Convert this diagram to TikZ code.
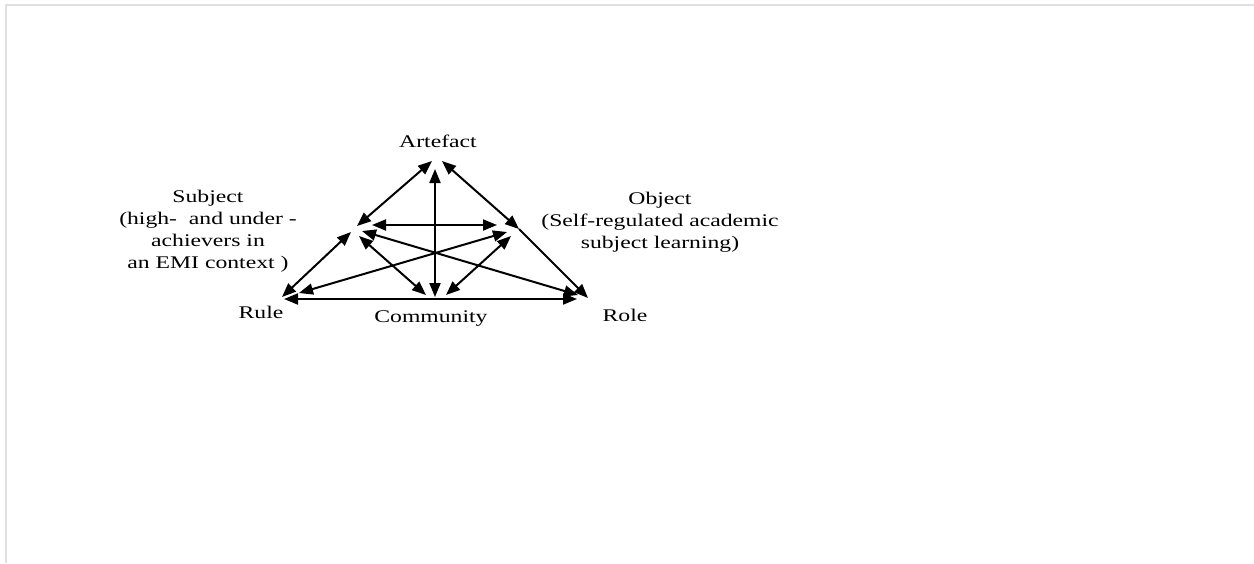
\documentclass[tikz,border=0pt]{standalone}
\usepackage{fontspec}
\setmainfont{Liberation Serif}[FakeStretch=1.33]
\usetikzlibrary{arrows.meta}
\begin{document}
\begin{tikzpicture}[x=0.5pt,y=-0.5pt,
  lbl/.style={font=\fontsize{8.9}{11}\selectfont, inner sep=0pt, align=center},
  link/.style={{Triangle[length=7pt,width=5.5pt]}-{Triangle[length=7pt,width=5.5pt]}, line width=1pt},
  halflink/.style={-{Triangle[length=7pt,width=5.5pt]}, line width=1pt}]
\useasboundingbox (0,0) rectangle (1254,563);
\draw[black!12, line width=0.8pt] (1254,5) -- (6,5) -- (6,563);

% labels
\node[lbl, anchor=base] (artefact) at (438,147) {Artefact};
\node[lbl, anchor=north] (subject) at (208,190) {Subject\\(high-\ \ and under -\\achievers in\\an EMI context )};
\node[lbl, anchor=north] (object) at (660,192) {Object\\(Self-regulated academic\\subject learning)};
\node[lbl, anchor=base] (rule) at (261,318) {Rule};
\node[lbl, anchor=base] (community) at (431,322) {Community};
\node[lbl, anchor=base] (role) at (625,321) {Role};

% connector end points
\coordinate (A-S) at (432,161);
\coordinate (A-O) at (442,161);
\coordinate (A-C) at (435,169);
\coordinate (S-A) at (357,226);
\coordinate (S-O) at (372,225);
\coordinate (S-Ru) at (351,232);
\coordinate (S-Ro) at (362,231);
\coordinate (S-C) at (359,236);
\coordinate (O-A) at (519,229);
\coordinate (O-S) at (497,225);
\coordinate (O-Ru) at (507,232);
\coordinate (O-C) at (511,236);
\coordinate (Ru-S) at (282,297);
\coordinate (Ru-O) at (299,293);
\coordinate (Ru-Ro) at (284,299);
\coordinate (Ro-O) at (588,298);
\coordinate (Ro-S) at (578,295);
\coordinate (Ro-Ru) at (577,299);
\coordinate (C-A) at (435,297);
\coordinate (C-S) at (426,295);
\coordinate (C-O) at (446,295);

% connectors
\draw[link] (A-S) -- (S-A);
\draw[link] (A-O) -- (O-A);
\draw[halflink] (O-A) -- (Ro-O);
\draw[link] (S-Ru) -- (Ru-S);
\draw[link] (S-O) -- (O-S);
\draw[link] (A-C) -- (C-A);
\draw[link] (S-C) -- (C-S);
\draw[link] (O-C) -- (C-O);
\draw[link] (S-Ro) -- (Ro-S);
\draw[link] (O-Ru) -- (Ru-O);
\draw[link] (Ru-Ro) -- (Ro-Ru);
\end{tikzpicture}
\end{document}
